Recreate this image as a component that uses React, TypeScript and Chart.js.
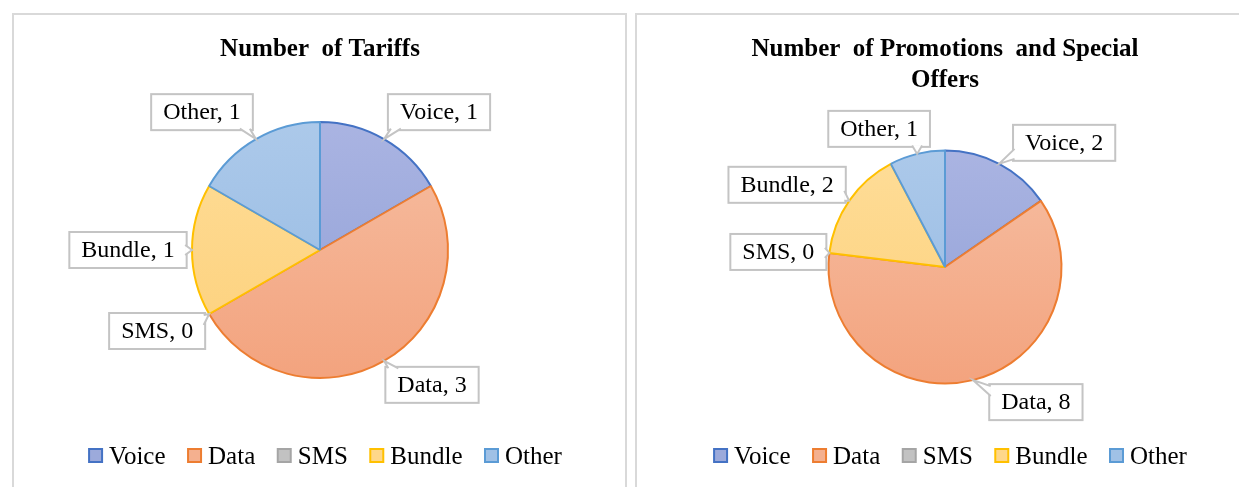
import React, { useEffect, useRef } from "react";
import { Chart, registerables } from "chart.js";

Chart.register(...registerables);

// ---------- data ----------
const categories = ["Voice", "Data", "SMS", "Bundle", "Other"];
const tariffValues = [1, 3, 0, 1, 1];
const promoValues = [2, 8, 0, 2, 1];
const tariffTitle = ["Number  of Tariffs"];
const promoTitle = ["Number  of Promotions  and Special", "Offers"];

// ---------- styles ----------
const FONT = "'Liberation Serif', 'Times New Roman', serif";
const borderColors = ["#4472c4", "#ed7d31", "#a5a5a5", "#ffc000", "#5b9bd5"];
const fillTop = ["#aab4e2", "#f6bea2", "#cfcfcf", "#fedd98", "#acc9ea"];
const fillBottom = ["#8f9fd6", "#f3a37e", "#b4b4b4", "#fdd07a", "#94b9e2"];
const legendFill = ["#9caadb", "#f4b08f", "#c2c2c2", "#fed78a", "#a0c1e6"];

// callout box centre offsets from each slice's outer mid-point (layout nudges)
const tariffLabelOffsets = [[55, -27], [48, 24], [-52, 17], [-64, 0], [-54, -27]];
const promoLabelOffsets = [[65, -21], [63, 22], [-51, -1], [-62, -16], [-38, -25]];

const calloutPlugin = {
  id: "callouts",
  afterDatasetsDraw(chart: any, _args: any, opts: any) {
    const ctx = chart.ctx;
    const meta = chart.getDatasetMeta(0);
    const values = chart.data.datasets[0].data;
    const labels = chart.data.labels;
    ctx.save();
    ctx.font = `24px ${FONT}`;
    meta.data.forEach((arc: any, i: number) => {
      const p = arc.getProps(["x", "y", "startAngle", "endAngle", "outerRadius"], true);
      const mid = (p.startAngle + p.endAngle) / 2;
      const ax = p.x + Math.cos(mid) * p.outerRadius;
      const ay = p.y + Math.sin(mid) * p.outerRadius;
      const [dx, dy] = opts.offsets[i];
      const text = `${labels[i]}, ${values[i]}`;
      const tw = ctx.measureText(text).width;
      const w = tw + 24;
      const h = 36;
      const cx = ax + dx;
      const cy = ay + dy;
      const left = cx - w / 2, right = cx + w / 2, top = cy - h / 2, bottom = cy + h / 2;

      // box
      ctx.fillStyle = "#ffffff";
      ctx.strokeStyle = "#c4c4c4";
      ctx.lineWidth = 2;
      ctx.fillRect(left, top, w, h);
      ctx.strokeRect(left, top, w, h);

      // pointer
      const ox = ax < left ? left - ax : ax > right ? ax - right : 0;
      const oy = ay < top ? top - ay : ay > bottom ? ay - bottom : 0;
      let b1: number[], b2: number[];
      if (ox > oy) {
        const ex = ax < left ? left : right;
        const inset = ax < left ? 1.5 : -1.5;
        const py = Math.min(Math.max(ay, top + 7), bottom - 7);
        b1 = [ex + inset, py - 5];
        b2 = [ex + inset, py + 5];
      } else {
        const ey = ay < top ? top : bottom;
        const inset = ay < top ? 1.5 : -1.5;
        const px = Math.min(Math.max(ax, left + 8), right - 8);
        b1 = [px - 5, ey + inset];
        b2 = [px + 5, ey + inset];
      }
      if (ox > 0 || oy > 0) {
        ctx.beginPath();
        ctx.moveTo(b1[0], b1[1]);
        ctx.lineTo(ax, ay);
        ctx.lineTo(b2[0], b2[1]);
        ctx.closePath();
        ctx.fill();
        ctx.beginPath();
        ctx.moveTo(b1[0], b1[1]);
        ctx.lineTo(ax, ay);
        ctx.lineTo(b2[0], b2[1]);
        ctx.stroke();
      }

      ctx.fillStyle = "#000000";
      ctx.textAlign = "center";
      ctx.textBaseline = "middle";
      ctx.fillText(text, cx, cy + 1);
    });
    ctx.restore();
  },
};

const legendPlugin = {
  id: "bottomLegend",
  afterDraw(chart: any, _args: any, opts: any) {
    const ctx = chart.ctx;
    const meta = chart.getDatasetMeta(0);
    const cxPie = meta.data[0].x;
    const labels: string[] = chart.data.labels;
    ctx.save();
    ctx.font = `25px ${FONT}`;
    const box = 14;
    const textGap = 7;
    const itemGap = 21.5;
    const widths = labels.map((l) => box + textGap + ctx.measureText(l).width);
    const total = widths.reduce((a, b) => a + b, 0) + itemGap * (labels.length - 1);
    let x = cxPie + opts.shift - total / 2;
    const y = chart.height - opts.fromBottom;
    labels.forEach((l, i) => {
      ctx.fillStyle = legendFill[i];
      ctx.fillRect(x + 1, y - 7, box - 1, box - 1);
      ctx.strokeStyle = borderColors[i];
      ctx.lineWidth = 2;
      ctx.strokeRect(x + 1, y - 7, box - 1, box - 1);
      ctx.fillStyle = "#000000";
      ctx.textAlign = "left";
      ctx.textBaseline = "middle";
      ctx.fillText(l, x + box + textGap, y + 1);
      x += widths[i] + itemGap;
    });
    ctx.restore();
  },
};

function gradientFill(c: any) {
  const chart = c.chart;
  const area = chart.chartArea;
  const i = c.dataIndex ?? 0;
  if (!area) return legendFill[i];
  const g = chart.ctx.createLinearGradient(0, area.top, 0, area.bottom);
  g.addColorStop(0, fillTop[i]);
  g.addColorStop(1, fillBottom[i]);
  return g;
}

type PieProps = {
  values: number[];
  title: string[];
  offsets: number[][];
  padding: { left: number; right: number; top: number; bottom: number };
  titlePadding: { top: number; bottom: number };
  lineHeight: number;
};

const W = 611;
const H = 472;

function PieChart(props: PieProps) {
  const ref = useRef<HTMLCanvasElement | null>(null);
  useEffect(() => {
    if (!ref.current) return;
    const chart = new Chart(ref.current, {
      type: "pie",
      data: {
        labels: categories,
        datasets: [
          {
            data: props.values,
            backgroundColor: gradientFill as any,
            borderColor: borderColors,
            borderWidth: 2,
            hoverOffset: 0,
            offset: 0,
          },
        ],
      },
      options: {
        responsive: false,
        animation: false,
        devicePixelRatio: 1,
        layout: { padding: props.padding },
        events: [],
        plugins: {
          legend: { display: false },
          tooltip: { enabled: false },
          title: {
            display: true,
            text: props.title,
            color: "#000000",
            font: { family: FONT, size: 25, weight: "bold", lineHeight: props.lineHeight },
            padding: props.titlePadding,
          },
          callouts: { offsets: props.offsets },
          bottomLegend: { shift: 5, fromBottom: 31 },
        } as any,
      },
      plugins: [calloutPlugin, legendPlugin],
    });
    return () => chart.destroy();
  }, []);
  return <canvas ref={ref} width={W} height={H} style={{ width: W, height: H, display: "block" }} />;
}

const panelStyle = (left: number): React.CSSProperties => ({
  position: "absolute",
  left,
  top: 13,
  width: 615,
  height: 490,
  border: "2px solid #d9d9d9",
  boxSizing: "border-box",
  background: "#ffffff",
});

export default function App() {
  return (
    <div style={{ position: "fixed", inset: 0, overflow: "hidden", background: "#ffffff" }}>
      <div style={panelStyle(12)}>
        <PieChart
          values={tariffValues}
          title={tariffTitle}
          offsets={tariffLabelOffsets}
          padding={{ left: 1, right: 0, top: 0, bottom: 108 }}
          titlePadding={{ top: 20, bottom: 56 }}
          lineHeight={1.2}
        />
      </div>
      <div style={panelStyle(635)}>
        <PieChart
          values={promoValues}
          title={promoTitle}
          offsets={promoLabelOffsets}
          padding={{ left: 5, right: 0, top: 0, bottom: 102.5 }}
          titlePadding={{ top: 19.5, bottom: 53 }}
          lineHeight={1.24}
        />
      </div>
    </div>
  );
}
